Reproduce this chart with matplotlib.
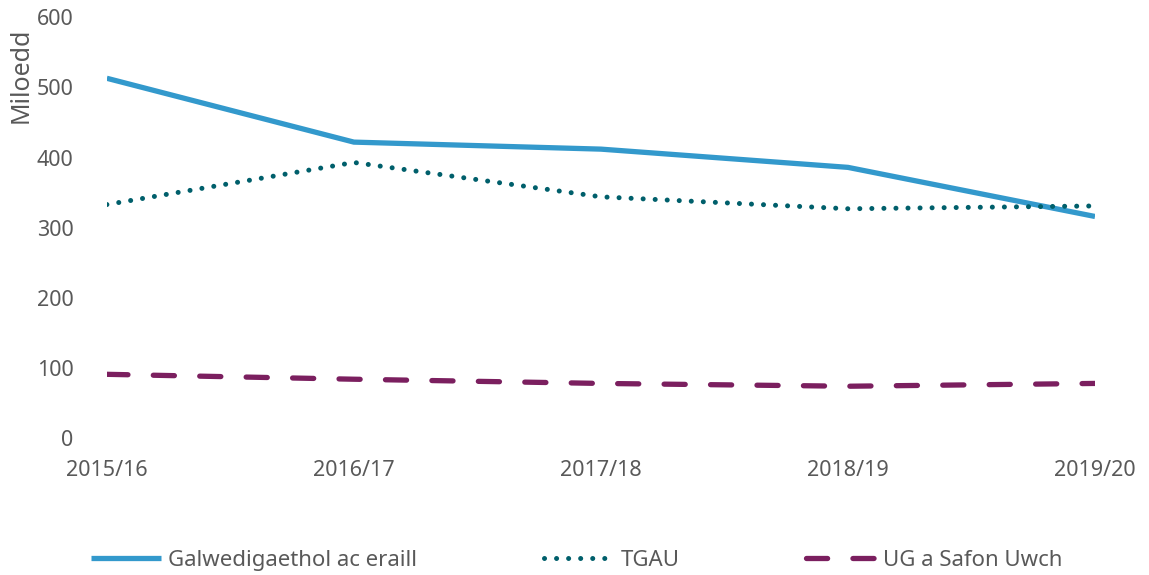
import matplotlib
matplotlib.use("Agg")
import matplotlib.pyplot as plt

plt.rcParams['font.family'] = ['Noto Sans', 'DejaVu Sans']

years = ['2015/16', '2016/17', '2017/18', '2018/19', '2019/20']
galwedigaethol = [513, 422, 412, 386, 316]
tgau = [333, 393, 344, 327, 331]
ug_safon = [91, 84, 78, 74, 78]

text_col = '#595959'

fig = plt.figure(figsize=(11.49, 5.75), dpi=100)
ax = fig.add_axes([0.093, 0.238, 0.860, 0.732])

x = range(len(years))
ax.plot(x, galwedigaethol, color='#3399cc', lw=3.8, solid_capstyle='butt',
        label='Galwedigaethol ac eraill', zorder=2)
ax.plot(x, tgau, color='#005f6b', lw=3.6, linestyle=(0, (0.01, 2.4)),
        dash_capstyle='round', label='TGAU', zorder=3)
ax.plot(x, ug_safon, color='#7b1f5f', lw=3.8, linestyle=(0, (4.0, 4.8)),
        dash_capstyle='round', label='UG a Safon Uwch', zorder=3)

ax.set_xlim(0, len(years) - 1)
ax.set_ylim(0, 600)
ax.set_yticks(range(0, 601, 100))
ax.set_xticks(list(x))
ax.set_xticklabels(years)

for s in ax.spines.values():
    s.set_visible(False)
ax.tick_params(length=0, labelsize=15.5, colors=text_col)
ax.tick_params(axis='x', pad=16)
ax.tick_params(axis='y', pad=24)
ax.set_ylabel('Miloedd', fontsize=18, color=text_col)
ax.yaxis.set_label_coords(-0.074, 0.862)

leg = fig.legend(loc='center', bbox_to_anchor=(0.502, 0.025), ncol=3,
                 frameon=False, fontsize=16, handlelength=3.15,
                 handletextpad=0.3, columnspacing=5.7)
for t in leg.get_texts():
    t.set_color(text_col)

fig.savefig('out.png', dpi=100)
